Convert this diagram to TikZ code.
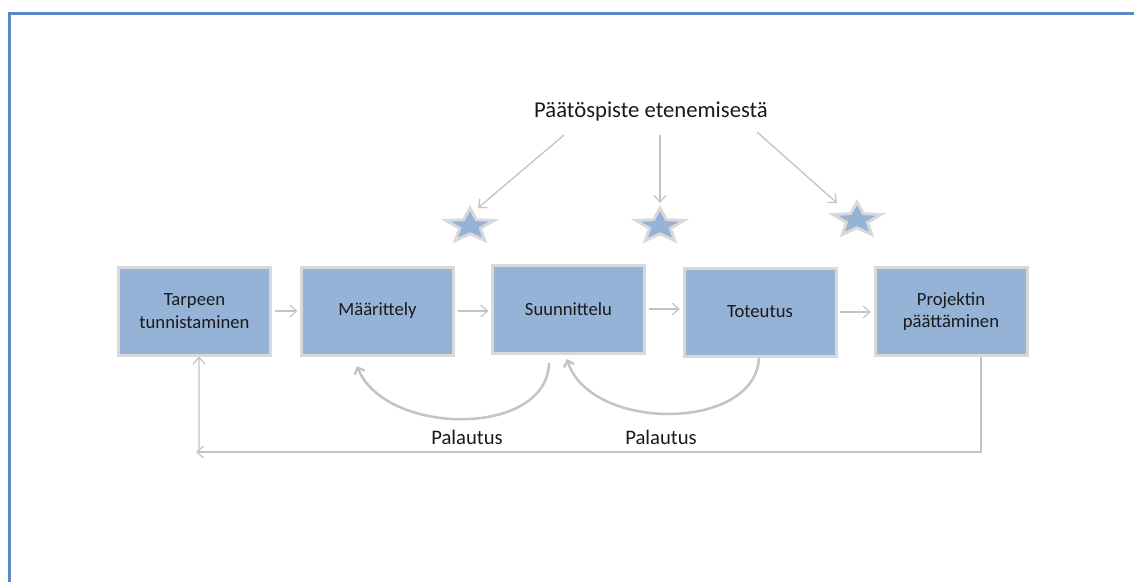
\documentclass[tikz,border=0pt]{standalone}
\usepackage{fontspec}
\setmainfont{Carlito}
\usetikzlibrary{arrows.meta,shapes.geometric}

\definecolor{boxfill}{HTML}{95B3D7}
\definecolor{boxedge}{HTML}{D9D9D9}
\definecolor{linkgray}{HTML}{C4C4C4}
\definecolor{framblue}{HTML}{5B87C6}
\definecolor{txt}{HTML}{1A1A1A}

\tikzset{
  phase/.style={draw=boxedge, line width=2.25pt, fill=boxfill,
    minimum width=114pt, minimum height=66pt, inner sep=0pt,
    align=center, text=txt, font=\fontsize{14}{17}\selectfont},
  milestone/.style={star, star points=5, star point ratio=2.3,
    draw=boxedge, line width=2.2pt, fill=boxfill, minimum size=27pt,
    inner sep=0pt, xscale=1.4, transform shape},
  flow/.style={draw=linkgray, line width=1pt,
    -{Straight Barb[length=5pt,width=9pt,line width=0.9pt]}},
  loopback/.style={draw=linkgray, line width=1.9pt,
    -{Straight Barb[length=4pt,width=8pt,line width=1.8pt]}},
  caption/.style={text=txt, inner sep=0pt},
}

\begin{document}
\begin{tikzpicture}[x=0.75pt,y=-0.75pt]
  \useasboundingbox (0,0) rectangle (1134,582);
  \fill[white] (0,0) rectangle (1134,582);

  % page frame, top and left edges
  \draw[framblue, line width=1.6pt] (9.5,582) |- (1134,13.5);

  % project phases
  \node[phase] (b1) at (194.5,311) {Tarpeen\\tunnistaminen};
  \node[phase] (b2) at (377.5,311) {Määrittely};
  \node[phase] (b3) at (568.5,309) {Suunnittelu};
  \node[phase] (b4) at (760,312)   {Toteutus};
  \node[phase] (b5) at (951,311.5) {Projektin\\päättäminen};

  \draw[flow, shorten >=2pt, shorten <=2pt] (b1.east) -- (b2.west |- b1.east);
  \draw[flow, shorten >=2pt, shorten <=2pt] (b2.east) -- (b3.west |- b2.east);
  \draw[flow, shorten >=2pt, shorten <=2pt] (b3.east) -- (b4.west |- b3.east);
  \draw[flow, shorten >=2pt, shorten <=2pt] (b4.east) -- (b5.west |- b4.east);

  % decision points
  \node[caption, font=\fontsize{17}{20}\selectfont] (title) at (651,112) {Päätöspiste etenemisestä};
  \node[milestone] (s1) at (470,226) {};
  \node[milestone] (s2) at (660,226) {};
  \node[milestone] (s3) at (857,220) {};

  \coordinate (a1) at (564,135);
  \coordinate (a2) at (660,135);
  \coordinate (a3) at (757,132);
  \coordinate (t1) at (478,208);
  \coordinate (t2) at (660,203);
  \coordinate (t3) at (837,203);
  \draw[flow] (a1) -- (t1);
  \draw[flow] (a2) -- (t2);
  \draw[flow] (a3) -- (t3);

  % feedback arcs
  \coordinate (r1s) at (549,363);
  \coordinate (r1e) at (357,366);
  \coordinate (r2s) at (759,358);
  \coordinate (r2e) at (567,359);
  \draw[loopback] (r1s) .. controls (547,438) and (385,436) .. (r1e);
  \draw[loopback] (r2s) .. controls (755,432) and (590,432) .. (r2e);
  \node[caption, font=\fontsize{15.5}{18}\selectfont] (p1) at (467,437) {Palautus};
  \node[caption, font=\fontsize{15.5}{18}\selectfont] (p2) at (661,437) {Palautus};

  % return from closing to the start
  \coordinate (loopL) at (196,452);
  \coordinate (loopB) at (199,451);
  \draw[flow] ([xshift=22.5pt]b5.south) |- (loopL);
  \draw[flow] (loopB) -- ([xshift=3.4pt]b1.south);
\end{tikzpicture}
\end{document}
